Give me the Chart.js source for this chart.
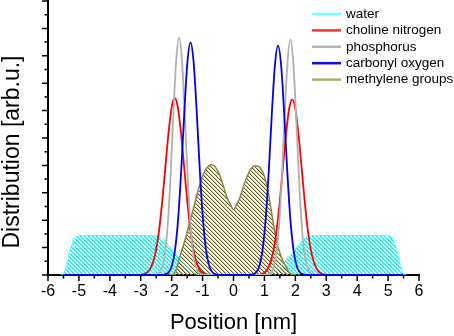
<!DOCTYPE html>
<html>
<head>
<meta charset="utf-8">
<script src="https://cdn.jsdelivr.net/npm/chart.js@4.4.1/dist/chart.umd.min.js"></script>
<style>
  html, body { margin: 0; padding: 0; background: #fff; }
  #wrap { width: 454px; height: 336px; position: relative; }
</style>
</head>
<body>
<div id="wrap"><canvas id="distChart" width="454" height="336"></canvas></div>
<script>
// Values (position in nm, distribution in arb.u.)
const seriesNames = ['water', 'choline nitrogen', 'phosphorus', 'carbonyl oxygen', 'methylene groups'];

const waterX = [-5.6, -5.5, -5.4, -5.3, -5.2, -5.1, -5.0, -4.5, -4.0, -3.5, -3.0, -2.5,
  -2.4, -2.3, -2.2, -2.1, -2.0, -1.9, -1.8, -1.7, -1.6, -1.5, -1.4, -1.3, -1.2, -1.1,
  1.1, 1.2, 1.3, 1.4, 1.5, 1.6, 1.7, 1.8, 1.9, 2.0, 2.1, 2.2, 2.3, 2.4, 2.5,
  3.0, 3.5, 4.0, 4.5, 5.0, 5.1, 5.2, 5.3, 5.4, 5.5, 5.6];
const waterY = [0, 0.05, 0.35, 0.85, 1.2, 1.38, 1.43, 1.44, 1.44, 1.44, 1.44, 1.43,
  1.40, 1.33, 1.22, 1.08, 0.94, 0.80, 0.68, 0.55, 0.42, 0.30, 0.19, 0.10, 0.04, 0,
  0, 0.04, 0.10, 0.19, 0.30, 0.42, 0.55, 0.68, 0.80, 0.94, 1.08, 1.22, 1.33, 1.40, 1.43,
  1.44, 1.44, 1.44, 1.44, 1.43, 1.38, 1.2, 0.85, 0.35, 0.05, 0];

const nitrogenX = [-5.5, -3.0, -2.9, -2.8, -2.7, -2.6, -2.5, -2.4, -2.3, -2.2, -2.1, -2.0,
  -1.9, -1.8, -1.7, -1.6, -1.5, -1.4, -1.3, -1.2, -1.1, -1.0, -0.9, -0.8,
  0.8, 0.9, 1.0, 1.1, 1.2, 1.3, 1.4, 1.5, 1.6, 1.7, 1.8, 1.9, 2.0, 2.1, 2.2, 2.3,
  2.4, 2.5, 2.6, 2.7, 2.8, 2.9, 3.0, 5.5];
const nitrogenY = [0, 0, 0.03, 0.09, 0.21, 0.47, 0.94, 1.70, 2.75, 3.99, 5.21, 6.12,
  6.46, 6.12, 5.21, 3.99, 2.75, 1.70, 0.94, 0.47, 0.21, 0.09, 0.03, 0,
  0, 0.03, 0.08, 0.21, 0.47, 0.93, 1.68, 2.72, 3.96, 5.16, 6.07, 6.40, 6.07, 5.16, 3.96, 2.72,
  1.68, 0.93, 0.47, 0.21, 0.08, 0.03, 0, 0];

const phosphorusX = [-5.5, -2.56, -2.46, -2.36, -2.26, -2.16, -2.06, -1.96, -1.86, -1.76,
  -1.66, -1.56, -1.46, -1.36, -1.26, -1.16, -1.06, -0.96,
  1.04, 1.14, 1.24, 1.34, 1.44, 1.54, 1.64, 1.74, 1.84, 1.94, 2.04, 2.14, 2.24,
  2.34, 2.44, 2.54, 2.64, 5.5];
const phosphorusY = [0, 0, 0.03, 0.14, 0.48, 1.36, 3.06, 5.46, 7.72, 8.66,
  7.72, 5.46, 3.06, 1.36, 0.48, 0.14, 0.03, 0,
  0, 0.03, 0.14, 0.48, 1.35, 3.04, 5.42, 7.66, 8.60, 7.66, 5.42, 3.04, 1.35,
  0.48, 0.14, 0.03, 0, 0];

const carbonylX = [-5.5, -2.29, -2.19, -2.09, -1.99, -1.89, -1.79, -1.69, -1.59, -1.49, -1.39,
  -1.29, -1.19, -1.09, -0.99, -0.89, -0.79, -0.69, -0.59, -0.49,
  0.54, 0.64, 0.74, 0.84, 0.94, 1.04, 1.14, 1.24, 1.34, 1.44, 1.54, 1.64, 1.74,
  1.84, 1.94, 2.04, 2.14, 2.24, 2.34, 5.5];
const carbonylY = [0, 0, 0.03, 0.11, 0.35, 0.93, 2.06, 3.83, 5.96, 7.77, 8.49,
  7.77, 5.96, 3.83, 2.06, 0.93, 0.35, 0.11, 0.03, 0,
  0, 0.03, 0.11, 0.34, 0.92, 2.03, 3.77, 5.88, 7.66, 8.37, 7.66, 5.88, 3.77,
  2.03, 0.92, 0.34, 0.11, 0.03, 0, 0];

const methyleneX = [-2.1, -2.0, -1.9, -1.8, -1.7, -1.6, -1.5, -1.4, -1.3, -1.2, -1.1, -1.0,
  -0.9, -0.8, -0.7, -0.6, -0.5, -0.4, -0.3, -0.2, -0.1, 0.0, 0.1, 0.2, 0.3, 0.4, 0.5,
  0.6, 0.7, 0.8, 0.9, 1.0, 1.1, 1.2, 1.3, 1.4, 1.5, 1.6, 1.7, 1.8, 1.9, 2.0];
const methyleneY = [0, 0, 0.08, 0.4, 0.8, 1.15, 1.55, 2.0, 2.4, 2.85, 3.25, 3.6,
  3.85, 3.98, 4.02, 3.95, 3.78, 3.5, 3.15, 2.8, 2.58, 2.38, 2.58, 2.8, 3.15, 3.48, 3.75,
  3.92, 3.98, 3.97, 3.85, 3.6, 3.15, 2.5, 1.8, 1.2, 0.8, 0.5, 0.3, 0.1, 0.02, 0];

const xTickLabels = ['-6', '-5', '-4', '-3', '-2', '-1', '0', '1', '2', '3', '4', '5', '6'];

const toPoints = (xs, ys) => xs.map((x, i) => ({ x: x, y: ys[i] }));

// diagonal hatch pattern ("\\\\"): one solid px, one soft px, two transparent px
const makeHatch = (color, soft) => {
  const c = document.createElement('canvas');
  c.width = 4; c.height = 4;
  const g = c.getContext('2d');
  for (let py = 0; py < 4; py++) {
    for (let px = 0; px < 4; px++) {
      const k = ((px - py) % 4 + 4) % 4;
      if (k === 0) { g.fillStyle = color; g.fillRect(px, py, 1, 1); }
      if (k === 1) { g.fillStyle = soft; g.fillRect(px, py, 1, 1); }
    }
  }
  return g.createPattern(c, 'repeat');
};

// ticks, y title and legend drawn by hand
const axisDecor = {
  id: 'axisDecor',
  afterDraw(chart) {
    const { ctx, chartArea } = chart;
    const xs = chart.scales.x, ys = chart.scales.y;
    ctx.save();
    ctx.strokeStyle = '#000';
    ctx.lineWidth = 1.5;
    ctx.beginPath();
    xs.ticks.forEach(t => {
      const px = xs.getPixelForValue(t.value);
      const len = Number.isInteger(t.value) ? 6 : 3.5;
      ctx.moveTo(px, chartArea.bottom);
      ctx.lineTo(px, chartArea.bottom + len);
    });
    ys.ticks.forEach(t => {
      const py = ys.getPixelForValue(t.value);
      const len = Number.isInteger(t.value) ? 6 : 3.5;
      ctx.moveTo(chartArea.left, py);
      ctx.lineTo(chartArea.left - len, py);
    });
    ctx.stroke();

    ctx.fillStyle = '#000';
    ctx.font = '23px "Liberation Sans", Arial, sans-serif';
    ctx.textAlign = 'center';
    ctx.textBaseline = 'middle';
    ctx.translate(13, 152);
    ctx.rotate(-Math.PI / 2);
    ctx.fillText('Distribution [arb.u.]', 0, 0);
    ctx.setTransform(1, 0, 0, 1, 0, 0);

    ctx.font = '13.5px "Liberation Sans", Arial, sans-serif';
    ctx.textAlign = 'left';
    chart.data.datasets.forEach((ds, i) => {
      const ly = 14 + i * 16.4;
      ctx.strokeStyle = ds.legendColor;
      ctx.lineWidth = 2.5;
      ctx.beginPath();
      ctx.moveTo(312, ly);
      ctx.lineTo(341, ly);
      ctx.stroke();
      ctx.fillStyle = '#000';
      ctx.fillText(ds.label, 346, ly);
    });
    ctx.restore();
  }
};

Chart.defaults.font.family = '"Liberation Sans", Arial, sans-serif';
Chart.defaults.color = '#000';

const ctx = document.getElementById('distChart').getContext('2d');
const distChart = new Chart(ctx, {
  type: 'line',
  data: {
    datasets: [
      {
        label: seriesNames[0],
        data: toPoints(waterX, waterY),
        borderColor: '#55ffff',
        legendColor: '#77ffff',
        backgroundColor: makeHatch('#00f4f4', 'rgba(0,244,244,0.7)'),
        borderWidth: 1,
        fill: 'origin',
        order: 5
      },
      {
        label: seriesNames[1],
        data: toPoints(nitrogenX, nitrogenY),
        borderColor: '#ff0000',
        legendColor: '#ff3030',
        borderWidth: 1.8,
        fill: false,
        order: 3
      },
      {
        label: seriesNames[2],
        data: toPoints(phosphorusX, phosphorusY),
        borderColor: '#b0b0b0',
        legendColor: '#b4b4b4',
        borderWidth: 1.8,
        fill: false,
        order: 2
      },
      {
        label: seriesNames[3],
        data: toPoints(carbonylX, carbonylY),
        borderColor: '#0000ee',
        legendColor: '#1010e0',
        borderWidth: 1.8,
        fill: false,
        order: 1
      },
      {
        label: seriesNames[4],
        data: toPoints(methyleneX, methyleneY),
        borderColor: '#8a8440',
        legendColor: '#b2ac78',
        backgroundColor: makeHatch('#615d16', 'rgba(120,115,40,0.35)'),
        borderWidth: 1.5,
        fill: 'origin',
        order: 4
      }
    ]
  },
  options: {
    responsive: false,
    animation: false,
    layout: { padding: { top: 1, right: 35, left: 0, bottom: 0 } },
    elements: {
      point: { radius: 0 },
      line: { cubicInterpolationMode: 'monotone' }
    },
    plugins: {
      legend: { display: false },
      tooltip: { enabled: false },
      filler: { drawTime: 'beforeDatasetsDraw' }
    },
    scales: {
      x: {
        type: 'linear',
        min: -6,
        max: 6,
        afterFit: (scale) => { scale.height = 61; },
        grid: { display: false, drawTicks: false },
        border: { display: true, color: '#000', width: 2 },
        ticks: {
          stepSize: 0.5,
          autoSkip: false,
          maxRotation: 0,
          padding: 7,
          font: { size: 16 },
          color: '#000',
          callback: (v) => Number.isInteger(v) ? xTickLabels[v + 6] : ''
        },
        title: {
          display: true,
          text: 'Position [nm]',
          font: { size: 22 },
          color: '#000',
          padding: { top: 0, bottom: 0 }
        }
      },
      y: {
        type: 'linear',
        min: 0,
        max: 10,
        afterFit: (scale) => { scale.width = 48; },
        grid: { display: false, drawTicks: false },
        border: { display: true, color: '#000', width: 2 },
        ticks: { stepSize: 0.5, display: false }
      }
    }
  },
  plugins: [axisDecor]
});
</script>
</body>
</html>
